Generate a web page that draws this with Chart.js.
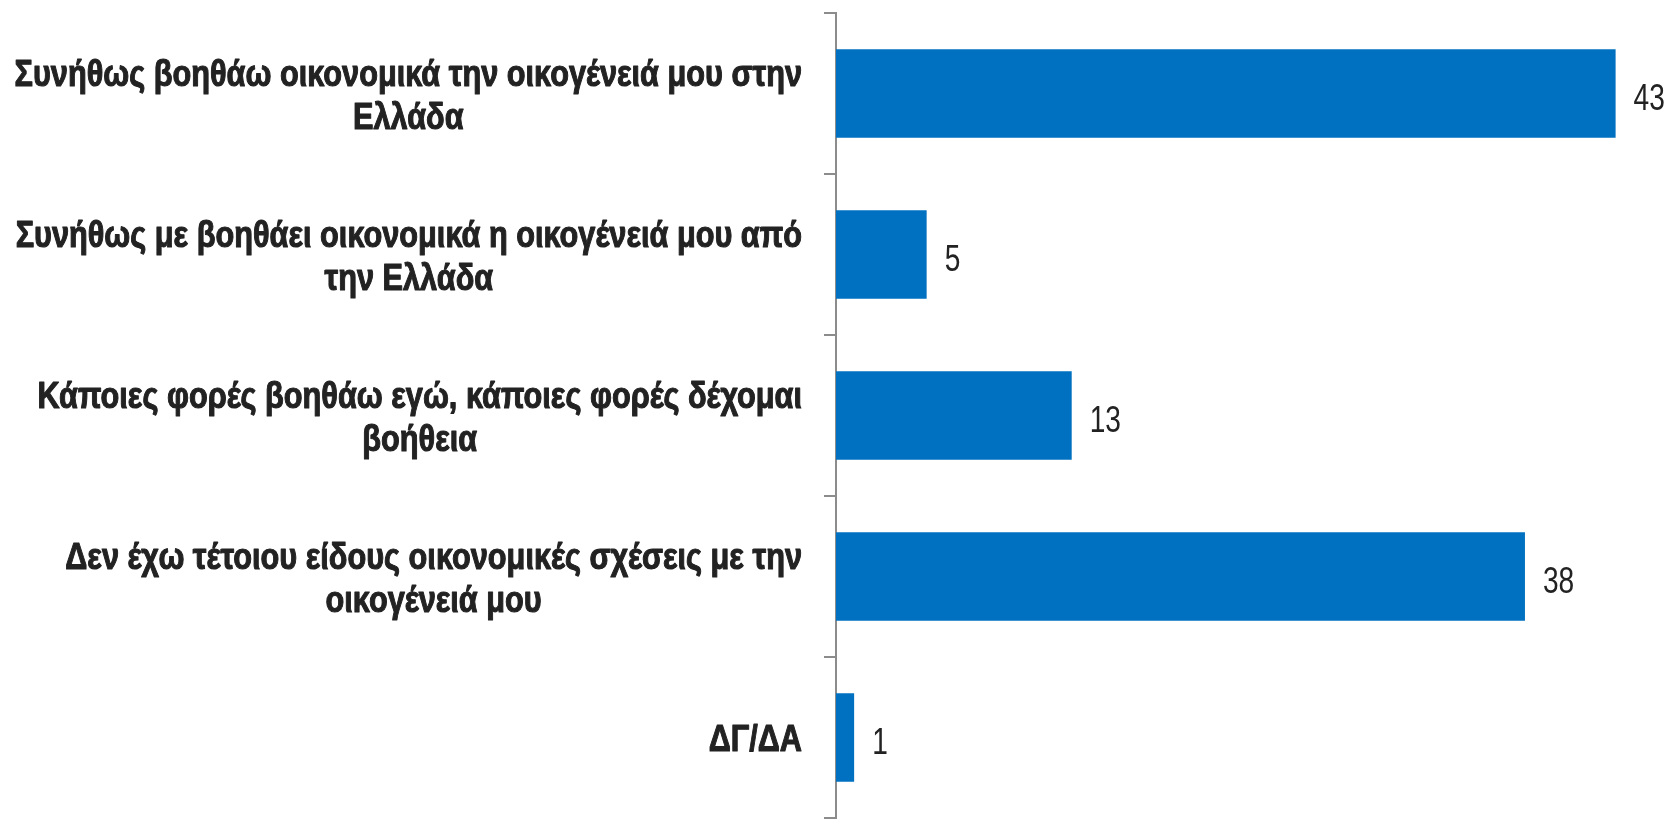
<!DOCTYPE html>
<html>
<head>
<meta charset="utf-8">
<script src="https://cdn.jsdelivr.net/npm/chart.js@4.4.0/dist/chart.umd.min.js"></script>
<style>
  html, body { margin: 0; padding: 0; background: #fff; }
  #wrap { width: 1670px; height: 820px; }
</style>
</head>
<body>
<div id="wrap"><canvas id="chart"></canvas></div>
<script>
const categories = [
  ["Συνήθως βοηθάω οικονομικά την οικογένειά μου στην", "Ελλάδα"],
  ["Συνήθως με βοηθάει οικονομικά η οικογένειά μου από", "την Ελλάδα"],
  ["Κάποιες φορές βοηθάω εγώ, κάποιες φορές δέχομαι", "βοήθεια"],
  ["Δεν έχω τέτοιου είδους οικονομικές σχέσεις με την", "οικογένειά μου"],
  ["ΔΓ/ΔΑ"]
];
const values = [43, 5, 13, 38, 1];

// no narrow font installed, so Liberation Sans is squeezed horizontally
const labelFont = "bold 37px 'Liberation Sans', Arial, sans-serif";
const valueFont = "37px 'Liberation Sans', Arial, sans-serif";
const labelSqueeze = 0.83;
const valueSqueeze = 0.76;

function squeezedText(ctx, text, x, y, sx, heavy) {
  ctx.save();
  ctx.translate(x, y);
  ctx.scale(sx, 1);
  if (heavy) ctx.strokeText(text, 0, 0);
  ctx.fillText(text, 0, 0);
  ctx.restore();
}

// category labels: block right-aligned against the axis, lines centred inside the block
const sideLabels = {
  id: "sideLabels",
  afterDraw(chart) {
    const ctx = chart.ctx;
    const y = chart.scales.y;
    const right = 802;
    const lineH = 43;
    ctx.save();
    ctx.font = labelFont;
    ctx.fillStyle = "#222";
    ctx.strokeStyle = "#222";
    ctx.lineWidth = 1.1;
    ctx.lineJoin = "round";
    ctx.textAlign = "center";
    ctx.textBaseline = "alphabetic";
    categories.forEach((lines, i) => {
      const w = Math.max(...lines.map(l => ctx.measureText(l).width)) * labelSqueeze;
      const cx = right - w / 2;
      const cy = y.getPixelForValue(i);
      lines.forEach((l, j) => {
        squeezedText(ctx, l, cx, cy + 13.5 + (j - (lines.length - 1) / 2) * lineH, labelSqueeze, true);
      });
    });
    // value labels at bar ends
    ctx.font = valueFont;
    ctx.textAlign = "left";
    chart.getDatasetMeta(0).data.forEach((bar, i) => {
      squeezedText(ctx, String(values[i]), bar.x + 18, bar.y + 16, valueSqueeze, false);
    });
    ctx.restore();
  }
};

const ctx = document.getElementById("chart").getContext("2d");
new Chart(ctx, {
  type: "bar",
  data: {
    labels: categories,
    datasets: [{
      data: values,
      backgroundColor: "#0070C0",
      barPercentage: 0.55,
      categoryPercentage: 1
    }]
  },
  options: {
    indexAxis: "y",
    responsive: true,
    maintainAspectRatio: false,
    animation: false,
    layout: { padding: { top: 13, bottom: 2, left: 0, right: 0 } },
    plugins: { legend: { display: false }, tooltip: { enabled: false } },
    scales: {
      x: { display: false, min: 0, max: 46 },
      y: {
        ticks: { display: false },
        grid: { offset: true, drawOnChartArea: false, tickLength: 12, color: "#8c8c8c", lineWidth: 2 },
        border: { color: "#8c8c8c", width: 2 },
        afterFit: s => { s.width = 836; }
      }
    }
  },
  plugins: [sideLabels]
});
</script>
</body>
</html>
